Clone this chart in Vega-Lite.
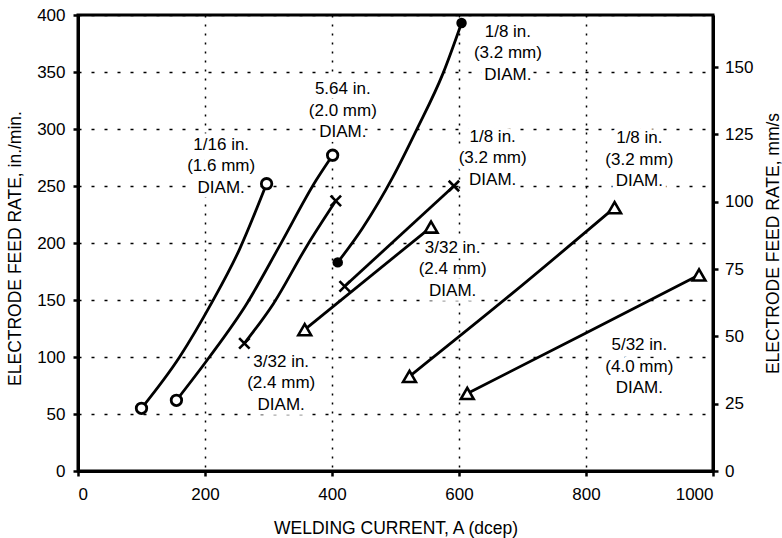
{
  "$schema": "https://vega.github.io/schema/vega-lite/v6.json",
  "width": 635,
  "height": 456,
  "autosize": {"type": "none"},
  "padding": {"left": 78, "top": 15, "right": 69, "bottom": 67},
  "background": "white",
  "config": {
    "font": "Liberation Sans",
    "view": {"stroke": "black", "strokeWidth": 3},
    "axis": {
      "domainColor": "black", "domainWidth": 3,
      "tickColor": "black", "tickWidth": 2.5, "tickSize": 5,
      "labelFont": "Liberation Sans", "labelFontSize": 17, "labelColor": "black",
      "titleFont": "Liberation Sans", "titleFontSize": 17.5, "titleFontWeight": "normal", "titleColor": "black",
      "gridColor": "black", "gridOpacity": 1, "gridWidth": 1.5
    }
  },
  "datasets": {
    "curves": [
      {"s": "A", "x": 100, "y": 55, "m": "o"},
      {"s": "A", "x": 160, "y": 100, "m": null},
      {"s": "A", "x": 210, "y": 147, "m": null},
      {"s": "A", "x": 254, "y": 194, "m": null},
      {"s": "A", "x": 297, "y": 252, "m": "o"},
      {"s": "B", "x": 155, "y": 62, "m": "o"},
      {"s": "B", "x": 207, "y": 100, "m": null},
      {"s": "B", "x": 266, "y": 147, "m": null},
      {"s": "B", "x": 317, "y": 197, "m": null},
      {"s": "B", "x": 375, "y": 255, "m": null},
      {"s": "B", "x": 401, "y": 277, "m": "o"},
      {"s": "C", "x": 262, "y": 112, "m": "x"},
      {"s": "C", "x": 308, "y": 147, "m": null},
      {"s": "C", "x": 360, "y": 197, "m": null},
      {"s": "C", "x": 406, "y": 237, "m": "x"},
      {"s": "D", "x": 409, "y": 183, "m": "dot"},
      {"s": "D", "x": 448, "y": 213, "m": null},
      {"s": "D", "x": 496, "y": 258, "m": null},
      {"s": "D", "x": 533, "y": 299, "m": null},
      {"s": "D", "x": 575, "y": 349, "m": null},
      {"s": "D", "x": 604, "y": 393, "m": "dot"},
      {"s": "E", "x": 420, "y": 162, "m": "x"},
      {"s": "E", "x": 592, "y": 250, "m": "x"},
      {"s": "F", "x": 357, "y": 124, "m": "tri"},
      {"s": "F", "x": 556, "y": 214, "m": "tri"},
      {"s": "G", "x": 522, "y": 83, "m": "tri"},
      {"s": "G", "x": 680, "y": 154, "m": null},
      {"s": "G", "x": 845, "y": 231, "m": "tri"},
      {"s": "H", "x": 613, "y": 68, "m": "tri"},
      {"s": "H", "x": 800, "y": 121, "m": null},
      {"s": "H", "x": 978, "y": 172, "m": "tri"}
    ],
    "labels": [
      {"x": 225.5, "y": 286, "t": "1/16 in.\n(1.6 mm)\nDIAM."},
      {"x": 417, "y": 335, "t": "5.64 in.\n(2.0 mm)\nDIAM."},
      {"x": 677, "y": 385.5, "t": "1/8 in.\n(3.2 mm)\nDIAM."},
      {"x": 653, "y": 293, "t": "1/8 in.\n(3.2 mm)\nDIAM."},
      {"x": 884, "y": 292, "t": "1/8 in.\n(3.2 mm)\nDIAM."},
      {"x": 590, "y": 196, "t": "3/32 in.\n(2.4 mm)\nDIAM."},
      {"x": 320, "y": 96, "t": "3/32 in.\n(2.4 mm)\nDIAM."},
      {"x": 884, "y": 110.5, "t": "5/32 in.\n(4.0 mm)\nDIAM."}
    ]
  },
  "layer": [
    {
      "encoding": {
        "x": {
          "field": "x", "type": "quantitative",
          "scale": {"domain": [0, 1000], "nice": false},
          "axis": {
            "values": [0, 200, 400, 600, 800, 1000],
            "format": "d",
            "labelPadding": 10.5,
            "gridDash": [2, 7],
            "title": "WELDING CURRENT, A (dcep)",
            "titleBaseline": "alphabetic",
            "titleY": 62
          }
        },
        "y": {
          "field": "y", "type": "quantitative",
          "scale": {"domain": [0, 400], "nice": false},
          "axis": {
            "values": [0, 50, 100, 150, 200, 250, 300, 350, 400],
            "format": "d",
            "labelPadding": 8,
            "gridDash": [3, 10],
            "title": "ELECTRODE FEED RATE, in./min.",
            "titleAngle": 270,
            "titleBaseline": "alphabetic",
            "titleAlign": "center",
            "titleX": -57.5,
            "titleY": 233
          }
        }
      },
      "layer": [
        {
          "data": {"name": "labels"},
          "mark": {"type": "text", "fontSize": 17, "lineBreak": "\n", "lineHeight": 21.5, "align": "center", "baseline": "middle", "fill": "white", "stroke": "white", "strokeWidth": 9},
          "encoding": {"text": {"field": "t"}}
        },
        {
          "data": {"name": "curves"},
          "mark": {"type": "line", "interpolate": "monotone", "color": "black", "strokeWidth": 2.8},
          "encoding": {"detail": {"field": "s"}}
        },
        {
          "data": {"name": "curves"},
          "transform": [{"filter": "datum.m == 'o'"}],
          "mark": {"type": "point", "shape": "circle", "filled": true, "fill": "white", "stroke": "black", "strokeWidth": 2.8, "size": 110, "opacity": 1}
        },
        {
          "data": {"name": "curves"},
          "transform": [{"filter": "datum.m == 'dot'"}],
          "mark": {"type": "point", "shape": "circle", "filled": true, "fill": "black", "strokeWidth": 0, "size": 110, "opacity": 1}
        },
        {
          "data": {"name": "curves"},
          "transform": [{"filter": "datum.m == 'x'"}],
          "mark": {"type": "point", "shape": "M-1,-1L1,1M-1,1L1,-1", "filled": false, "stroke": "black", "strokeWidth": 2.6, "size": 110, "opacity": 1}
        },
        {
          "data": {"name": "curves"},
          "transform": [{"filter": "datum.m == 'tri'"}],
          "mark": {"type": "point", "shape": "triangle-up", "filled": true, "fill": "white", "stroke": "black", "strokeWidth": 2.6, "size": 165, "opacity": 1}
        },
        {
          "data": {"name": "labels"},
          "mark": {"type": "text", "fontSize": 17, "lineBreak": "\n", "lineHeight": 21.5, "align": "center", "baseline": "middle", "fill": "black"},
          "encoding": {"text": {"field": "t"}}
        }
      ]
    },
    {
      "mark": {"type": "rule", "opacity": 0},
      "encoding": {
        "y": {
          "datum": 0, "type": "quantitative",
          "scale": {"domain": [0, 169.33], "nice": false},
          "axis": {
            "orient": "right",
            "values": [0, 25, 50, 75, 100, 125, 150],
            "format": "d",
            "grid": false,
            "labelPadding": 6.5,
            "title": "ELECTRODE FEED RATE, mm/s",
            "titleAngle": 270,
            "titleBaseline": "alphabetic",
            "titleAlign": "center",
            "titleX": 65.5,
            "titleY": 228
          }
        }
      }
    }
  ],
  "resolve": {"scale": {"y": "independent"}}
}
